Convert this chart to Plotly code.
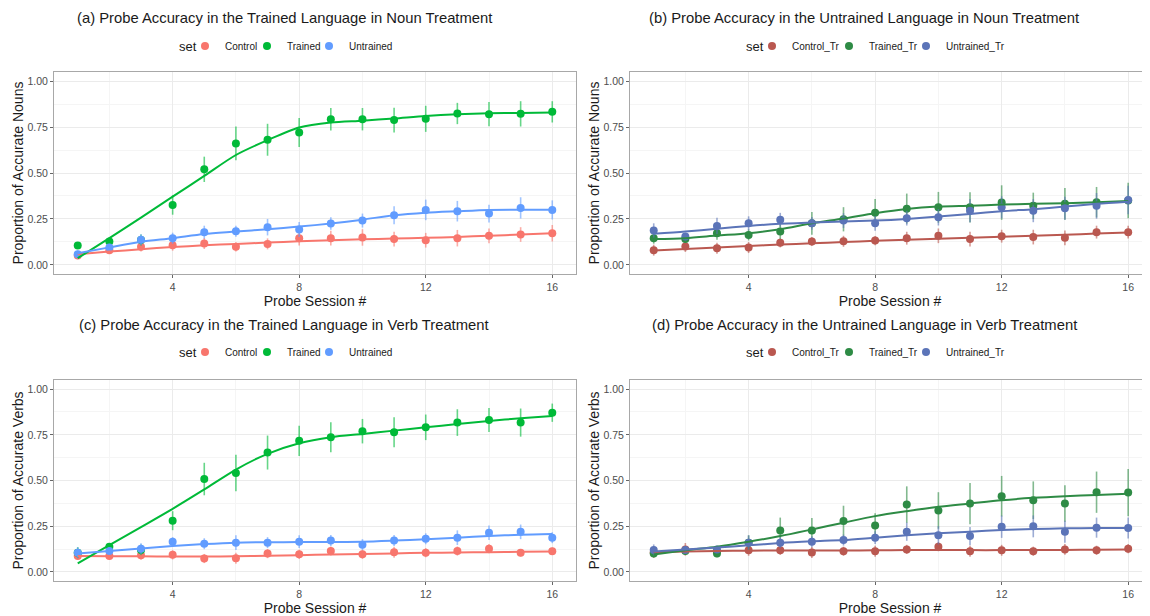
import plotly.graph_objects as go

sessions = list(range(1, 17))
x_tick_vals = [4, 8, 12, 16]
y_tick_vals = [0.0, 0.25, 0.5, 0.75, 1.0]
y_tick_text = ["0.00", "0.25", "0.50", "0.75", "1.00"]

panel_titles = [
    "(a) Probe Accuracy in the Trained Language in Noun Treatment",
    "(b) Probe Accuracy in the Untrained Language in Noun Treatment",
    "(c) Probe Accuracy in the Trained Language in Verb Treatment",
    "(d) Probe Accuracy in the Untrained Language in Verb Treatment",
]
y_titles = ["Proportion of Accurate Nouns", "Proportion of Accurate Nouns",
            "Proportion of Accurate Verbs", "Proportion of Accurate Verbs"]
x_title = "Probe Session #"
legend_title = "set"
set_names_trained_lang = ["Control", "Trained", "Untrained"]
set_names_untrained_lang = ["Control_Tr", "Trained_Tr", "Untrained_Tr"]

# ---- Panel (a)
a_control = [0.051, 0.080, 0.098, 0.107, 0.116, 0.098, 0.114, 0.145, 0.145, 0.149, 0.140, 0.134, 0.145, 0.158, 0.165, 0.172]
a_control_err = [0.02, 0.02, 0.025, 0.03, 0.03, 0.025, 0.03, 0.04, 0.04, 0.045, 0.04, 0.04, 0.045, 0.04, 0.04, 0.045]
a_control_fit = [0.058, 0.072, 0.085, 0.097, 0.106, 0.114, 0.121, 0.128, 0.134, 0.139, 0.143, 0.147, 0.152, 0.158, 0.165, 0.172]
a_trained = [0.105, 0.127, 0.135, 0.326, 0.520, 0.661, 0.681, 0.721, 0.793, 0.793, 0.788, 0.795, 0.824, 0.820, 0.822, 0.833]
a_trained_err = [0.012, 0.02, 0.03, 0.053, 0.069, 0.092, 0.087, 0.079, 0.061, 0.061, 0.068, 0.071, 0.058, 0.066, 0.069, 0.058]
a_trained_fit = [0.036, 0.145, 0.257, 0.371, 0.484, 0.598, 0.679, 0.748, 0.775, 0.785, 0.797, 0.811, 0.820, 0.825, 0.827, 0.829]
a_untrained = [0.058, 0.094, 0.136, 0.145, 0.178, 0.183, 0.205, 0.192, 0.225, 0.241, 0.270, 0.299, 0.292, 0.279, 0.310, 0.299]
a_untrained_err = [0.02, 0.02, 0.03, 0.03, 0.035, 0.03, 0.045, 0.041, 0.034, 0.038, 0.049, 0.056, 0.056, 0.048, 0.058, 0.052]
a_untrained_fit = [0.063, 0.095, 0.125, 0.145, 0.168, 0.181, 0.194, 0.208, 0.225, 0.246, 0.270, 0.284, 0.292, 0.299, 0.300, 0.300]

# ---- Panel (b)
b_control = [0.080, 0.100, 0.090, 0.094, 0.120, 0.127, 0.128, 0.132, 0.145, 0.158, 0.140, 0.156, 0.151, 0.147, 0.178, 0.178]
b_control_err = [0.03, 0.03, 0.03, 0.03, 0.025, 0.025, 0.03, 0.025, 0.035, 0.04, 0.04, 0.035, 0.04, 0.04, 0.035, 0.035]
b_control_fit = [0.078, 0.086, 0.094, 0.102, 0.110, 0.117, 0.124, 0.131, 0.137, 0.142, 0.147, 0.153, 0.158, 0.164, 0.170, 0.176]
b_trained = [0.145, 0.140, 0.172, 0.163, 0.181, 0.226, 0.248, 0.284, 0.306, 0.313, 0.313, 0.339, 0.321, 0.332, 0.341, 0.350]
b_trained_err = [0.03, 0.02, 0.035, 0.03, 0.039, 0.062, 0.066, 0.074, 0.082, 0.084, 0.082, 0.094, 0.072, 0.086, 0.083, 0.097]
b_trained_fit = [0.140, 0.145, 0.159, 0.172, 0.194, 0.226, 0.252, 0.281, 0.304, 0.317, 0.322, 0.328, 0.332, 0.335, 0.341, 0.348]
b_untrained = [0.187, 0.154, 0.212, 0.226, 0.245, 0.226, 0.241, 0.226, 0.254, 0.259, 0.295, 0.313, 0.295, 0.308, 0.321, 0.353]
b_untrained_err = [0.039, 0.02, 0.044, 0.038, 0.038, 0.035, 0.04, 0.04, 0.04, 0.045, 0.063, 0.06, 0.063, 0.063, 0.07, 0.077]
b_untrained_fit = [0.169, 0.181, 0.197, 0.212, 0.223, 0.230, 0.236, 0.241, 0.250, 0.263, 0.277, 0.292, 0.303, 0.317, 0.332, 0.344]

# ---- Panel (c)
c_control = [0.087, 0.087, 0.091, 0.093, 0.073, 0.074, 0.100, 0.096, 0.114, 0.096, 0.107, 0.105, 0.114, 0.127, 0.104, 0.113]
c_control_err = [0.02, 0.02, 0.025, 0.025, 0.025, 0.03, 0.025, 0.025, 0.025, 0.025, 0.03, 0.025, 0.025, 0.025, 0.02, 0.02]
c_control_fit = [0.087, 0.086, 0.085, 0.084, 0.084, 0.085, 0.088, 0.091, 0.095, 0.098, 0.101, 0.104, 0.106, 0.108, 0.110, 0.112]
c_trained = [0.105, 0.138, 0.120, 0.280, 0.508, 0.541, 0.653, 0.717, 0.737, 0.770, 0.764, 0.791, 0.817, 0.831, 0.817, 0.871]
c_trained_err = [0.03, 0.02, 0.03, 0.052, 0.089, 0.10, 0.093, 0.083, 0.082, 0.067, 0.082, 0.07, 0.073, 0.066, 0.077, 0.05]
c_trained_fit = [0.047, 0.146, 0.245, 0.345, 0.451, 0.560, 0.646, 0.704, 0.737, 0.755, 0.773, 0.791, 0.809, 0.826, 0.840, 0.853]
c_untrained = [0.105, 0.114, 0.127, 0.165, 0.154, 0.160, 0.160, 0.165, 0.172, 0.149, 0.172, 0.181, 0.187, 0.214, 0.219, 0.187]
c_untrained_err = [0.03, 0.02, 0.03, 0.025, 0.03, 0.04, 0.03, 0.035, 0.03, 0.03, 0.03, 0.03, 0.04, 0.04, 0.04, 0.03]
c_untrained_fit = [0.101, 0.114, 0.128, 0.141, 0.152, 0.160, 0.162, 0.163, 0.163, 0.165, 0.171, 0.178, 0.187, 0.196, 0.203, 0.207]

# ---- Panel (d)
d_control = [0.106, 0.123, 0.114, 0.118, 0.118, 0.106, 0.113, 0.113, 0.123, 0.138, 0.113, 0.118, 0.113, 0.123, 0.118, 0.127]
d_control_err = [0.03, 0.035, 0.02, 0.03, 0.025, 0.03, 0.025, 0.03, 0.025, 0.025, 0.03, 0.03, 0.025, 0.03, 0.025, 0.025]
d_control_fit = [0.108, 0.112, 0.114, 0.116, 0.117, 0.117, 0.117, 0.118, 0.119, 0.119, 0.119, 0.119, 0.120, 0.120, 0.121, 0.122]
d_trained = [0.100, 0.114, 0.100, 0.160, 0.227, 0.227, 0.279, 0.254, 0.368, 0.336, 0.374, 0.414, 0.392, 0.374, 0.436, 0.434]
d_trained_err = [0.02, 0.02, 0.02, 0.04, 0.07, 0.068, 0.083, 0.067, 0.10, 0.10, 0.113, 0.111, 0.103, 0.10, 0.113, 0.129]
d_trained_fit = [0.095, 0.118, 0.138, 0.165, 0.196, 0.232, 0.269, 0.305, 0.332, 0.356, 0.374, 0.392, 0.405, 0.414, 0.421, 0.427]
d_untrained = [0.120, 0.120, 0.123, 0.160, 0.160, 0.165, 0.174, 0.187, 0.220, 0.200, 0.196, 0.247, 0.249, 0.220, 0.242, 0.240]
d_untrained_err = [0.03, 0.02, 0.02, 0.04, 0.03, 0.03, 0.03, 0.035, 0.05, 0.05, 0.05, 0.061, 0.06, 0.06, 0.055, 0.057]
d_untrained_fit = [0.111, 0.122, 0.133, 0.145, 0.158, 0.167, 0.174, 0.187, 0.200, 0.211, 0.220, 0.229, 0.234, 0.238, 0.240, 0.240]

colors_trained_lang = ["#F8766D", "#00BA38", "#619CFF"]
colors_untrained_lang = ["#BA5850", "#2E8B45", "#5B74B8"]

panels = [
    (set_names_trained_lang, colors_trained_lang,
     [(a_control, a_control_err, a_control_fit), (a_trained, a_trained_err, a_trained_fit),
      (a_untrained, a_untrained_err, a_untrained_fit)]),
    (set_names_untrained_lang, colors_untrained_lang,
     [(b_control, b_control_err, b_control_fit), (b_trained, b_trained_err, b_trained_fit),
      (b_untrained, b_untrained_err, b_untrained_fit)]),
    (set_names_trained_lang, colors_trained_lang,
     [(c_control, c_control_err, c_control_fit), (c_trained, c_trained_err, c_trained_fit),
      (c_untrained, c_untrained_err, c_untrained_fit)]),
    (set_names_untrained_lang, colors_untrained_lang,
     [(d_control, d_control_err, d_control_fit), (d_trained, d_trained_err, d_trained_fit),
      (d_untrained, d_untrained_err, d_untrained_fit)]),
]

# page has an 8px body margin: figure occupies page px 8..1150 x 8..616
OFF = 8
W, H = 1150 - OFF, 616 - OFF


def px(x):
    return (x - OFF) / W


def py(y):
    return 1 - (y - OFF) / H


x_domains = [(px(54), px(576)), (px(630), 1.0), (px(54), px(576)), (px(630), 1.0)]
y_domains = [(py(274), py(72)), (py(274), py(72)), (py(581), py(380)), (py(581), py(380))]
x_ranges = [[0.25, 16.75], [0.25, 16.69], [0.25, 16.75], [0.25, 16.69]]
title_x = [284, 864, 284, 864]
title_y = [18, 18, 325, 325]
# legend: "set" label left edge, legend box left edge, item pitch widths
set_label_x = [177, 744, 177, 744]
legend_left = [185, 752, 185, 752]
legend_y = [46, 46, 352, 352]
entry_w = [17, 32, 17, 32]
last_w = [50, 66, 50, 66]


def rgba(hexc, a):
    h = hexc.lstrip("#")
    r, g, b = int(h[0:2], 16), int(h[2:4], 16), int(h[4:6], 16)
    return f"rgba({r},{g},{b},{a})"


fig = go.Figure()
for i, (names, cols, series) in enumerate(panels):
    k = "" if i == 0 else str(i + 1)
    xa, ya = "x" + k, "y" + k
    leg = "legend" + k
    for (vals, errs, fit), name, col in zip(series, names, cols):
        fig.add_trace(go.Scatter(
            x=sessions, y=vals, mode="markers", xaxis=xa, yaxis=ya,
            marker=dict(color=col, size=8),
            error_y=dict(type="data", array=errs, visible=True, width=0,
                         thickness=1.6, color=rgba(col, 0.6)),
            showlegend=False, hoverinfo="skip"))
    for (vals, errs, fit), name, col in zip(series, names, cols):
        fig.add_trace(go.Scatter(
            x=sessions, y=fit, mode="lines", xaxis=xa, yaxis=ya,
            line=dict(color=col, width=2, shape="spline", smoothing=0.8),
            showlegend=False, hoverinfo="skip"))
    for j, (name, col) in enumerate(zip(names, cols)):
        fig.add_trace(go.Scatter(
            x=[None], y=[None], mode="markers", xaxis=xa, yaxis=ya,
            name=name, legend=leg,
            legendwidth=last_w[i] if j == len(names) - 1 else entry_w[i],
            marker=dict(color=col, size=8)))

layout = dict(
    width=W, height=H, margin=dict(l=0, r=0, t=0, b=0),
    paper_bgcolor="white", plot_bgcolor="white",
    font=dict(family="Liberation Sans, Arial, sans-serif", color="#1a1a1a"),
    annotations=[],
)
for i in range(4):
    k = "" if i == 0 else str(i + 1)
    layout["xaxis" + k] = dict(
        domain=list(x_domains[i]), anchor="y" + k, range=x_ranges[i],
        tickvals=x_tick_vals, ticktext=[str(v) for v in x_tick_vals],
        showgrid=True, gridcolor="#EBEBEB", gridwidth=1,
        minor=dict(dtick=2, tick0=0, showgrid=True, gridcolor="#F5F5F5", gridwidth=0.6),
        showline=True, mirror=True, linecolor="#A8A8A8", linewidth=1,
        ticks="outside", ticklen=3, tickcolor="#666666", tickwidth=1,
        tickfont=dict(size=10.5, color="#4D4D4D"), zeroline=False,
        title=dict(text=x_title, font=dict(size=14, color="#1a1a1a"), standoff=2),
        automargin=False)
    layout["yaxis" + k] = dict(
        domain=list(y_domains[i]), anchor="x" + k, range=[-0.05, 1.05],
        tickvals=y_tick_vals, ticktext=y_tick_text,
        showgrid=True, gridcolor="#EBEBEB", gridwidth=1,
        minor=dict(dtick=0.125, tick0=0, showgrid=True, gridcolor="#F5F5F5", gridwidth=0.6),
        showline=True, mirror=True, linecolor="#A8A8A8", linewidth=1,
        ticks="outside", ticklen=3, tickcolor="#666666", tickwidth=1,
        tickfont=dict(size=10.5, color="#4D4D4D"), zeroline=False,
        title=dict(text=y_titles[i], font=dict(size=14, color="#1a1a1a"), standoff=0),
        automargin=False)
    layout["legend" + k] = dict(
        orientation="h", x=px(legend_left[i]), xanchor="left",
        y=py(legend_y[i]), yanchor="middle",
        font=dict(size=10, color="#1a1a1a"), itemwidth=30,
        bgcolor="rgba(0,0,0,0)", tracegroupgap=0)
    layout["annotations"].append(dict(
        text=panel_titles[i], xref="paper", yref="paper",
        x=px(title_x[i]), y=py(title_y[i]), xanchor="center", yanchor="middle",
        showarrow=False, font=dict(size=14.8, color="#1a1a1a")))
    layout["annotations"].append(dict(
        text=legend_title, xref="paper", yref="paper",
        x=px(set_label_x[i]), y=py(legend_y[i]), xanchor="left", yanchor="middle",
        showarrow=False, font=dict(size=13, color="#1a1a1a")))

fig.update_layout(**layout)
fig.write_html("out.html")
